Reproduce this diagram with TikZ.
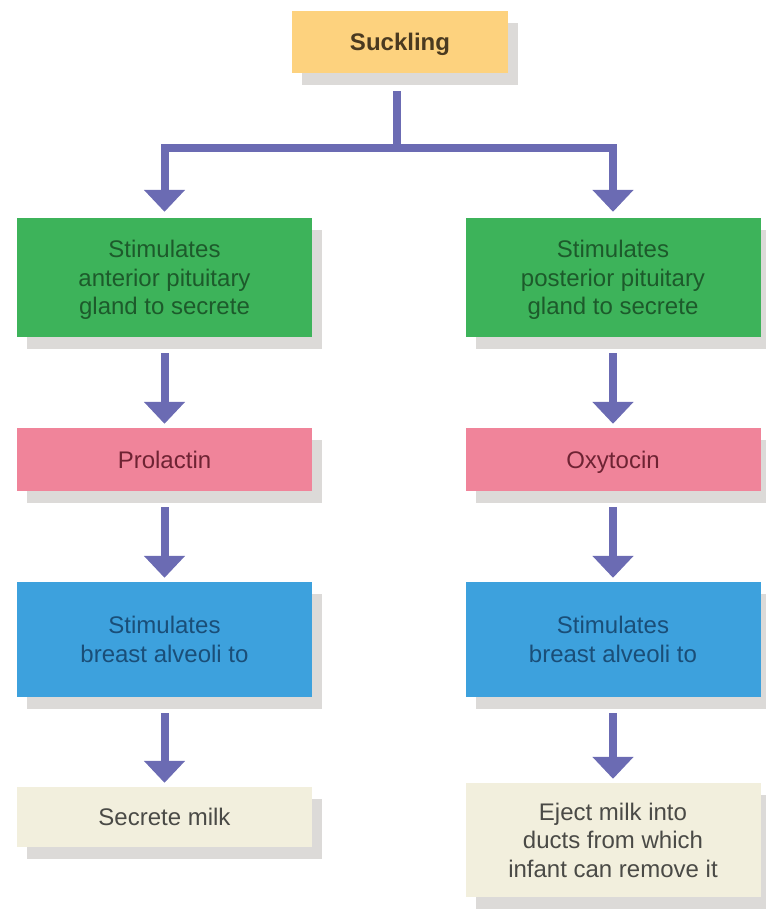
\documentclass[tikz,border=0pt]{standalone}
\usepackage{fontspec}
\setmainfont{Liberation Sans}
\usetikzlibrary{arrows.meta,shadows}

\definecolor{suckfill}{HTML}{FDD27E}
\definecolor{suckink}{HTML}{4A3A20}
\definecolor{glfill}{HTML}{3DB35A}
\definecolor{glink}{HTML}{1D5A2B}
\definecolor{hormfill}{HTML}{F0849A}
\definecolor{hormink}{HTML}{6E2333}
\definecolor{alvfill}{HTML}{3DA1DD}
\definecolor{alvink}{HTML}{1A4E78}
\definecolor{milkfill}{HTML}{F2EFDD}
\definecolor{milkink}{HTML}{4A4A46}
\definecolor{shade}{HTML}{DCDAD8}
\definecolor{arrowc}{HTML}{6B6BB3}

\begin{document}
\begin{tikzpicture}[x = 1pt, y = -1pt,
		box/.style = {rectangle, inner sep = 0, align = center, minimum width = 295pt, text depth = 0pt,
			font = \fontsize{24}{28.5}\selectfont,
			general shadow = {fill = shade, shadow xshift = 10pt, shadow yshift = -12pt}},
		pipe/.style = {draw = arrowc, line width = 8pt},
		flow/.style = {pipe, -{Triangle[length = 22pt, width = 40pt]}}]
					\useasboundingbox (0, 0) rectangle (766, 911);

					\node [box, fill = suckfill, text = suckink, minimum width = 216pt, minimum height = 62pt, font = \fontsize{24}{28.5}\selectfont\bfseries] (suck) at (400, 42) {Suckling};

					\node [box, fill = glfill, text = glink, minimum height = 119pt] (gl1) at (164.5, 277.5) {Stimulates\\anterior pituitary\\gland to secrete};
					\node [box, fill = glfill, text = glink, minimum height = 119pt] (gl2) at (613, 277.5) {Stimulates\\posterior pituitary\\gland to secrete};

					\node [box, fill = hormfill, text = hormink, minimum height = 63pt] (horm1) at (164.5, 459.5) {Prolactin};
					\node [box, fill = hormfill, text = hormink, minimum height = 63pt] (horm2) at (613, 459.5) {Oxytocin};

					\node [box, fill = alvfill, text = alvink, minimum height = 115pt] (alv1) at (164.5, 639.5) {Stimulates\\breast alveoli to};
					\node [box, fill = alvfill, text = alvink, minimum height = 115pt] (alv2) at (613, 639.5) {Stimulates\\breast alveoli to};

					\node [box, fill = milkfill, text = milkink, minimum height = 60pt] (milk1) at (164.5, 817) {Secrete milk};
					\node [box, fill = milkfill, text = milkink, minimum height = 114pt] (milk2) at (613, 840) {Eject milk into\\ducts from which\\infant can remove it};

					\coordinate (split) at (397, 148);

					\draw [pipe, shorten <= 18pt] (suck.south -| split) to (split);
					\draw [flow, shorten >= 6pt] (split) -| (gl1);
					\draw [flow, shorten >= 6pt] (split) -| (gl2);

					\draw [flow, shorten <= 16pt, shorten >= 4pt] (gl1) to (horm1);
					\draw [flow, shorten <= 16pt, shorten >= 4pt] (horm1) to (alv1);
					\draw [flow, shorten <= 16pt, shorten >= 4pt] (alv1) to (milk1);
					\draw [flow, shorten <= 16pt, shorten >= 4pt] (gl2) to (horm2);
					\draw [flow, shorten <= 16pt, shorten >= 4pt] (horm2) to (alv2);
					\draw [flow, shorten <= 16pt, shorten >= 4pt] (alv2) to (milk2);
				\end{tikzpicture}
\end{document}
